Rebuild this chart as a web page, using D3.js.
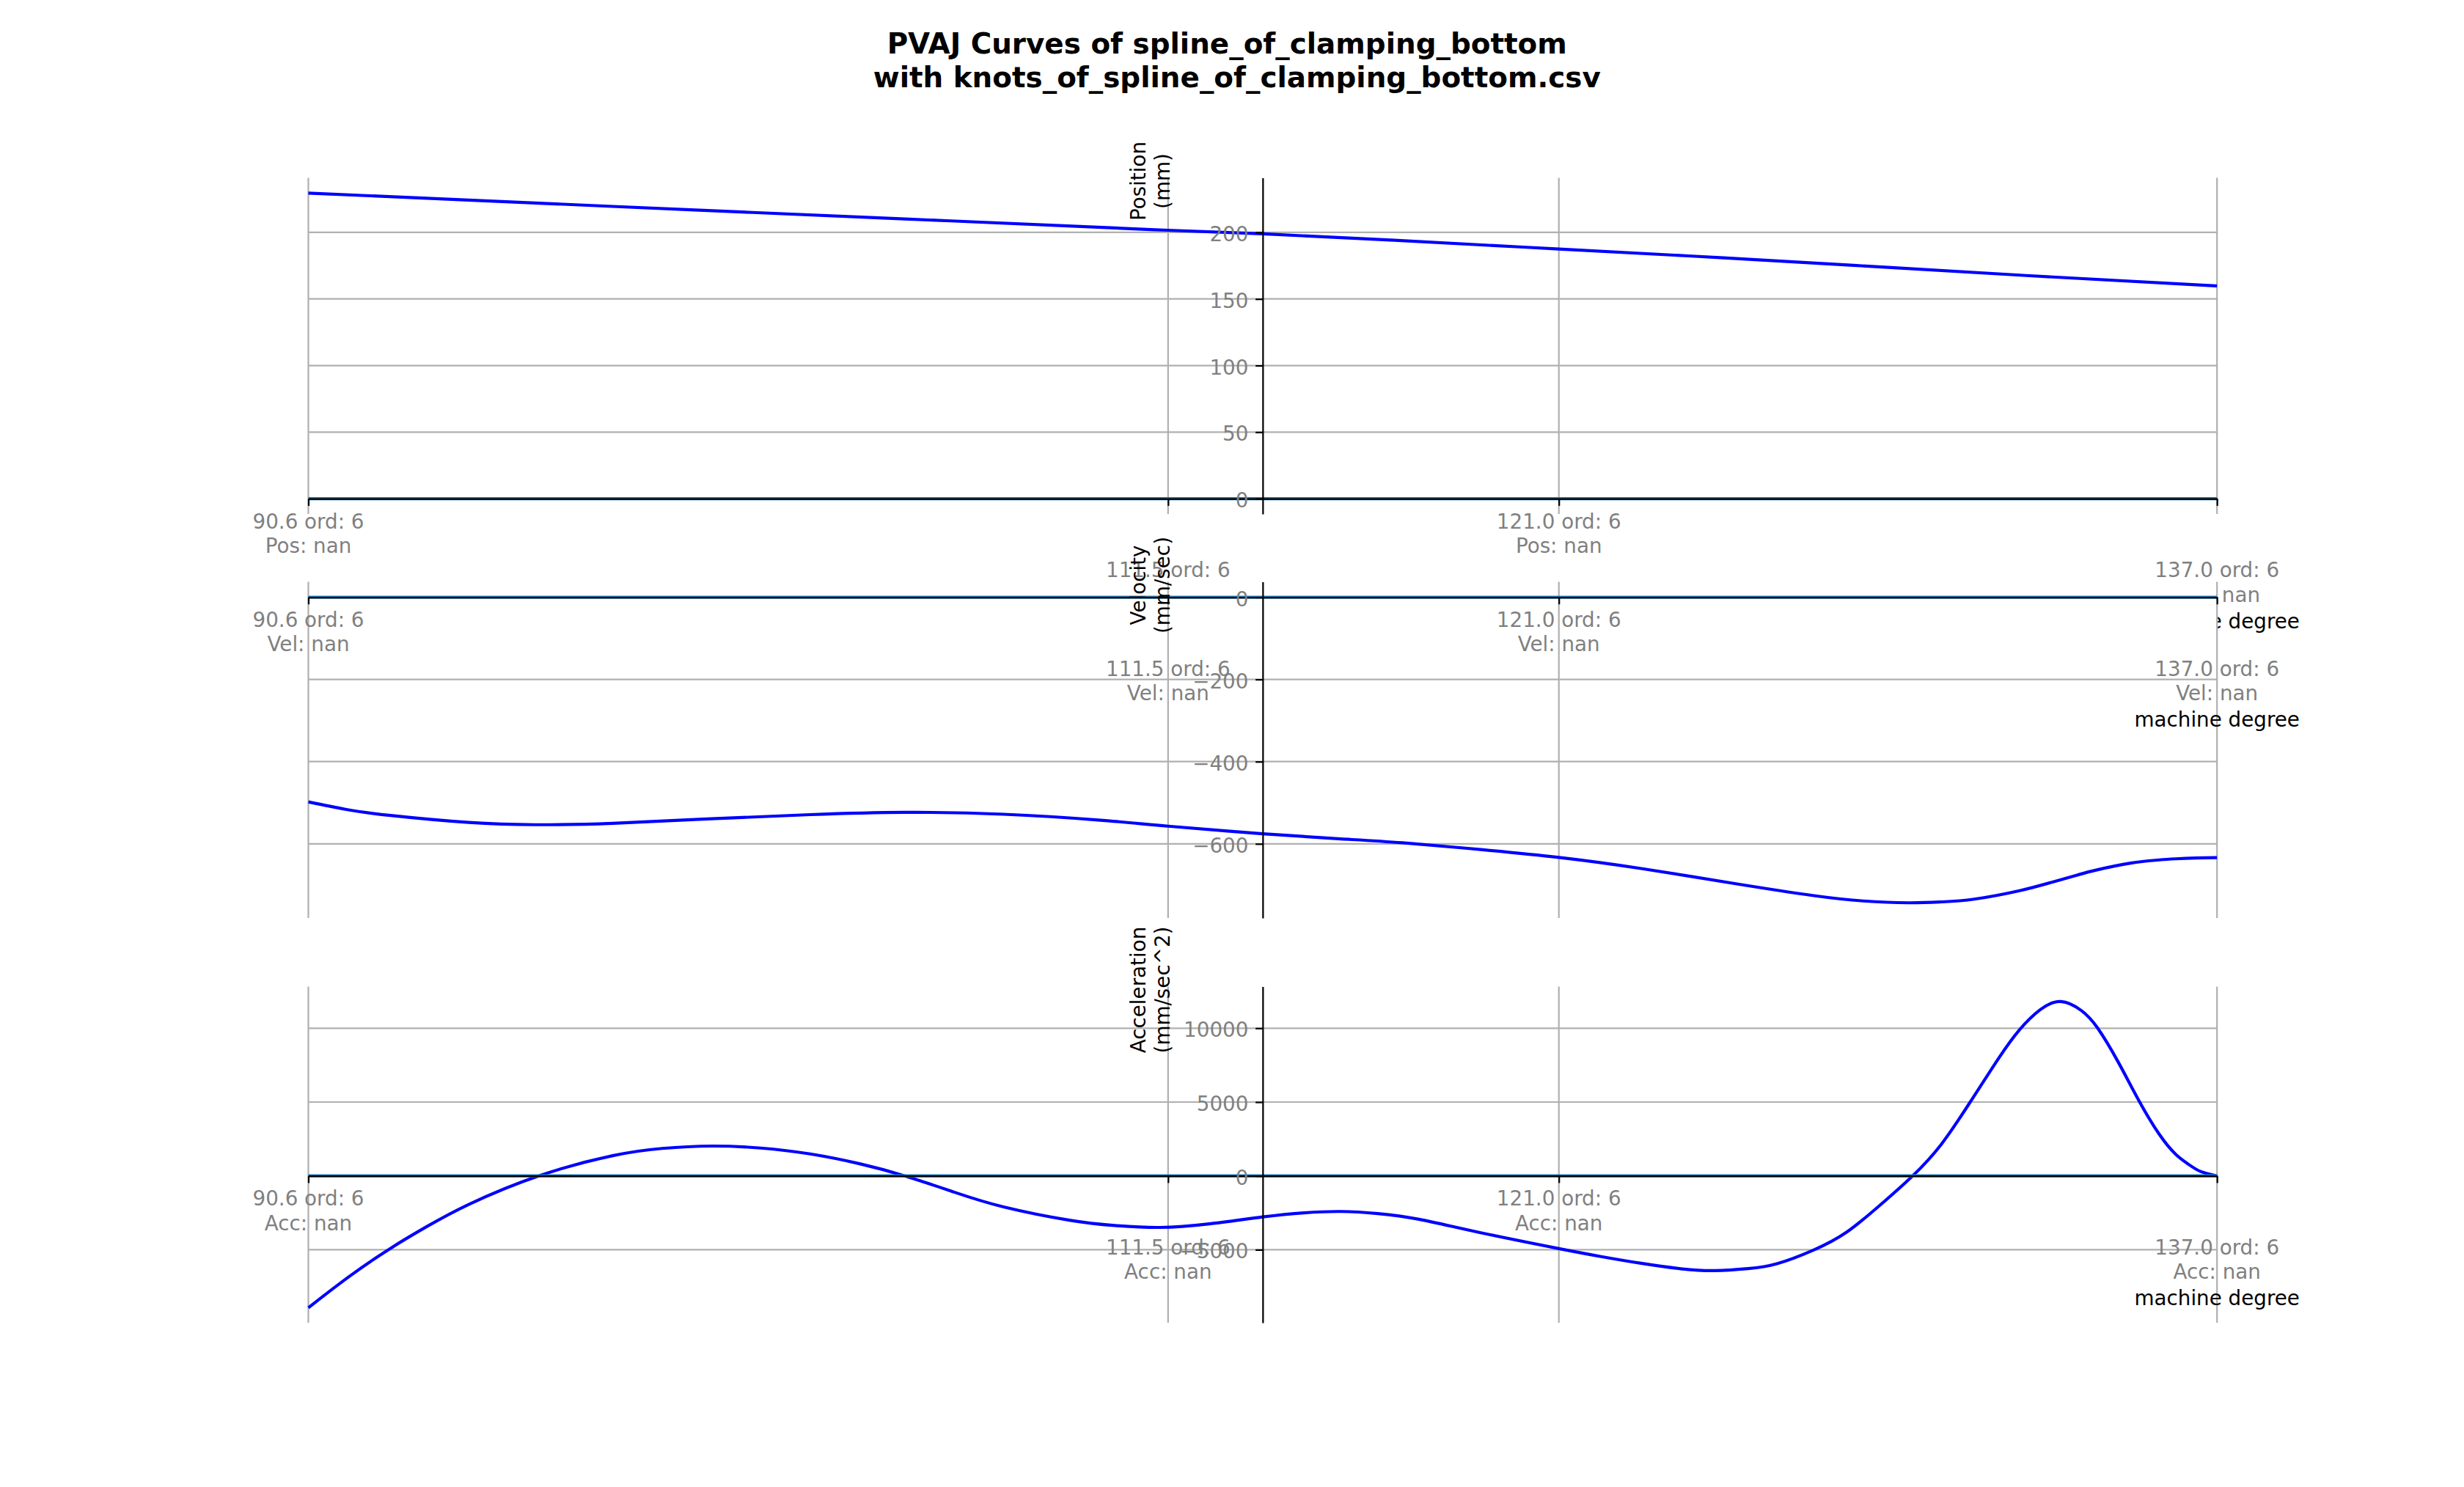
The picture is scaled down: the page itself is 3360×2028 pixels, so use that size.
<!DOCTYPE html>
<html>
<head>
<meta charset="utf-8">
<script src="https://cdn.jsdelivr.net/npm/d3@7"></script>
<style>
html,body{margin:0;padding:0;background:#fff;}
svg{display:block;font-family:"DejaVu Sans",sans-serif;}
</style>
</head>
<body>
<svg id="chart" width="3360" height="2028"></svg>
<script>
// ---------------- data ----------------
const titleLines = ["PVAJ Curves of spline_of_clamping_bottom ", " with knots_of_spline_of_clamping_bottom.csv"];
const knots = [90.6, 111.5, 121.0, 137.0];
const knotOrders = [6, 6, 6, 6];
const knotValueText = "nan";
const xLabel = "machine degree";
const xDomain = [90.6, 137.0];

const posX = [90.6, 95, 100, 105, 110, 111.5, 113.8, 117, 121, 125, 129, 133, 137];
const posY = [229.5, 223.6, 216.8, 210.2, 203.6, 201.6, 198.9, 194.1, 187.5, 180.9, 173.7, 166.5, 159.8];

const velX = [90.6, 91.5, 92.6, 94.5, 96.1, 98.0, 100.4, 102.8, 105.1, 107.5, 109.8, 111.5, 113.8, 115.7, 117.2, 119.1, 121.0, 123.0, 125.3, 127.2, 128.4, 129.5, 130.3, 131.1, 132.2, 133.0, 133.6, 134.1, 134.9, 135.5, 136.0, 136.5, 137.0];
const velY = [-498, -516, -531, -548, -553.5, -550, -539, -529, -523.5, -528, -542, -557, -575.5, -588, -597.5, -614, -633, -660, -697, -726, -739, -743.5, -741.3, -734.5, -714, -693, -676, -663, -647, -640, -636.5, -634.5, -633.5];

const accX = [90.6, 91.6, 92.6, 93.5, 94.5, 96.2, 98.0, 99.2, 100.4, 101.6, 102.8, 104.0, 105.1, 106.3, 107.5, 109.1, 110.2, 111.3, 112.5, 113.8, 114.8, 115.7, 116.6, 117.6, 119.1, 121.0, 122.0, 123.0, 124.0, 124.8, 125.6, 126.3, 127.2, 128.0, 128.8, 129.6, 130.3, 131.0, 131.7, 132.2, 132.7, 133.2, 133.7, 134.1, 134.6, 135.1, 135.6, 136.0, 136.3, 136.6, 137.0];
const accY = [-8928, -6800, -4900, -3400, -1930, 0, 1370, 1860, 2020, 1885, 1485, 822, 0, -1100, -2100, -3000, -3360, -3490, -3250, -2780, -2500, -2410, -2550, -2940, -3850, -4925, -5450, -5920, -6300, -6415, -6280, -5950, -5010, -3800, -2000, 0, 2150, 5000, 8000, 9900, 11250, 11805, 11200, 10000, 7700, 5100, 2800, 1450, 800, 300, 0];

const posTicks = [0, 50, 100, 150, 200];
const velTicks = [-600, -400, -200, 0];
const accTicks = [-5000, 0, 5000, 10000];

const posLimits = [-11.47, 240.97];
const velLimits = [-780.5, 37.5];
const accLimits = [-9945, 12820];

const panels = [
  {key: "Pos", ylabel: ["Position", "(mm)"], xs: posX, ys: posY, ticks: posTicks, lim: posLimits},
  {key: "Vel", ylabel: ["Velocity", "(mm/sec)"], xs: velX, ys: velY, ticks: velTicks, lim: velLimits},
  {key: "Acc", ylabel: ["Acceleration", "(mm/sec^2)"], xs: accX, ys: accY, ticks: accTicks, lim: accLimits}
];

// ---------------- layout ----------------
const L = 420.5, R = 3023.2, CX = (L + R) / 2;
const tops = [242.5, 793.5, 1345.5], PH = 458.5;
const FS = 27.78, LH = 33.33, TL = 9.72, PAD = 9.72;
const GRID = "#b0b0b0", TICKC = "#808080";

const svg = d3.select("#chart");
svg.append("rect").attr("width", 3360).attr("height", 2028).attr("fill", "#fff");

const x = d3.scaleLinear().domain(xDomain).range([L, R]);

panels.forEach((p, pi) => {
  const top = tops[pi];
  const y = d3.scaleLinear().domain(p.lim).range([top + PH, top]);
  const g = svg.append("g");
  g.append("rect").attr("x", L).attr("y", top).attr("width", R - L).attr("height", PH).attr("fill", "#fff");

  // grid
  g.append("g").selectAll("line").data(knots).join("line")
    .attr("x1", d => x(d)).attr("x2", d => x(d)).attr("y1", top).attr("y2", top + PH)
    .attr("stroke", GRID).attr("stroke-width", 2.22);
  g.append("g").selectAll("line").data(p.ticks).join("line")
    .attr("x1", L).attr("x2", R).attr("y1", d => y(d)).attr("y2", d => y(d))
    .attr("stroke", GRID).attr("stroke-width", 2.22);

  // curve
  const line = d3.line().x((d, i) => x(p.xs[i])).y(d => y(d)).curve(d3.curveNatural);
  g.append("path").datum(p.ys).attr("d", line).attr("fill", "none")
    .attr("stroke", "blue").attr("stroke-width", 4.17).attr("stroke-linejoin", "round");

  // knots drawn at zero
  const kl = d3.line().x(d => x(d)).y(() => y(0));
  g.append("path").datum(knots).attr("d", kl).attr("fill", "none")
    .attr("stroke", "#1f77b4").attr("stroke-width", 4.17);

  // x axis (at zero)
  const y0 = y(0);
  const xa = g.append("g").attr("transform", `translate(0,${y0})`)
    .call(d3.axisBottom(x).tickValues(knots).tickSize(TL).tickSizeOuter(0).tickPadding(PAD).tickFormat(""));
  xa.select(".domain").attr("stroke", "#000").attr("stroke-width", 2.22);
  xa.selectAll(".tick line").attr("stroke", "#000").attr("stroke-width", 2.22);
  xa.selectAll(".tick text").remove();

  knots.forEach((k, i) => {
    const off = (i % 2) * 2;
    const t = g.append("text").attr("text-anchor", "middle").attr("font-size", FS).attr("fill", TICKC);
    const lines = [`${k.toFixed(1)} ord: ${knotOrders[i]}`, `${p.key}: ${knotValueText}`];
    lines.forEach((s, j) => {
      t.append("tspan").attr("x", x(k)).attr("y", y0 + 40.6 + LH * (j + off)).text(s);
    });
  });

  g.append("text").attr("x", R).attr("y", y0 + 176.5).attr("text-anchor", "middle")
    .attr("font-size", FS).attr("fill", "#000").text(xLabel);

  // y axis (center spine)
  const ya = g.append("g").attr("transform", `translate(${CX},0)`)
    .call(d3.axisLeft(y).tickValues(p.ticks).tickSize(TL).tickSizeOuter(0).tickPadding(PAD).tickFormat(d3.format("d")));
  ya.select(".domain").attr("stroke", "#000").attr("stroke-width", 2.22);
  ya.selectAll(".tick line").attr("stroke", "#000").attr("stroke-width", 2.22);
  ya.selectAll(".tick text").attr("fill", TICKC).attr("font-size", FS)
    .attr("font-family", "DejaVu Sans").attr("dy", null).attr("y", 11.5);

  // y label
  const yl = g.append("text").attr("transform", `translate(1562,${top + 4.5}) rotate(-90)`)
    .attr("text-anchor", "middle").attr("font-size", FS).attr("fill", "#000");
  p.ylabel.forEach((s, j) => yl.append("tspan").attr("x", 0).attr("y", LH * j).text(s));
});

// title
const tt = svg.append("text").attr("text-anchor", "middle").attr("font-size", 38.89)
  .attr("font-weight", "bold").attr("fill", "#000").style("white-space", "pre");
titleLines.forEach((s, j) => tt.append("tspan").attr("x", 1680).attr("y", 72.5 + 46.67 * j).text(s));
</script>
</body>
</html>
